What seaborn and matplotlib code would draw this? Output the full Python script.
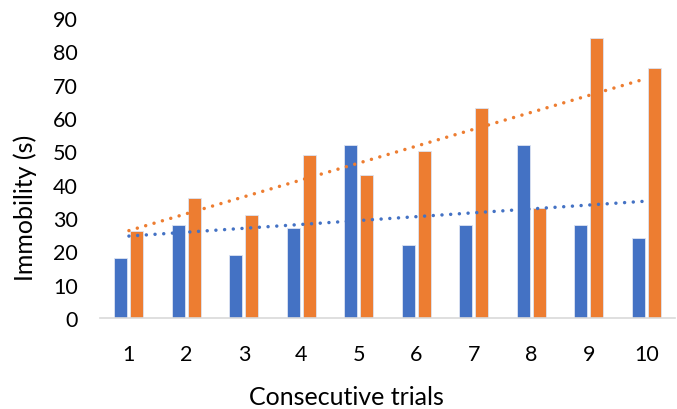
import numpy as np
import pandas as pd
import seaborn as sns
import matplotlib.pyplot as plt

trials = [1, 2, 3, 4, 5, 6, 7, 8, 9, 10]
series_a = [18, 28, 19, 27, 52, 22, 28, 52, 28, 24]
series_b = [26, 36, 31, 49, 43, 50, 63, 33, 84, 75]
yticks = [0, 10, 20, 30, 40, 50, 60, 70, 80, 90]

blue = "#4472C4"
orange = "#ED7D31"

sns.set_theme(style="white")
plt.rcParams['font.family'] = ['Lato', 'DejaVu Sans']

df = pd.DataFrame({
    "trial": [str(t) for t in trials] * 2,
    "value": series_a + series_b,
    "group": ["A"] * len(trials) + ["B"] * len(trials),
})

fig = plt.figure(figsize=(6.77, 4.10), dpi=100)
ax = fig.add_axes([0.148, 0.222, 0.849, 0.732])

sns.barplot(data=df, x="trial", y="value", hue="group", palette=[blue, orange],
            width=0.56, gap=0.19, ax=ax, legend=False, saturation=1,
            edgecolor="#DDE4F2", linewidth=0.6, errorbar=None)

xs = np.arange(len(trials))
for vals, col in [(series_a, blue), (series_b, orange)]:
    m, b = np.polyfit(np.array(trials), np.array(vals), 1)
    fit = m * np.array(trials) + b
    ax.plot(xs, fit, color=col, linewidth=2.5, linestyle=(0, (0.01, 2.5)),
            dash_capstyle="round", zorder=5)

ax.set_ylim(0, 90)
ax.set_yticks(yticks)
ax.set_xlim(-0.5, len(trials) - 0.5)
for s in ["top", "right", "left"]:
    ax.spines[s].set_visible(False)
ax.spines["bottom"].set_color("#D9D9D9")
ax.spines["bottom"].set_linewidth(1.2)
ax.tick_params(axis="x", length=0, pad=19, labelsize=15.5, colors="#000000")
ax.tick_params(axis="y", length=0, pad=16, labelsize=15.5, colors="#000000")
ax.set_xlabel("Consecutive trials", fontsize=18, color="#000000")
ax.set_ylabel("Immobility (s)", fontsize=18, color="#000000")
ax.xaxis.set_label_coords(0.428, -0.222)
ax.yaxis.set_label_coords(-0.13, 0.37)
ax.yaxis.label.set_va("center")
ax.xaxis.label.set_va("top")
ax.grid(False)

fig.savefig("out.png", dpi=100)
